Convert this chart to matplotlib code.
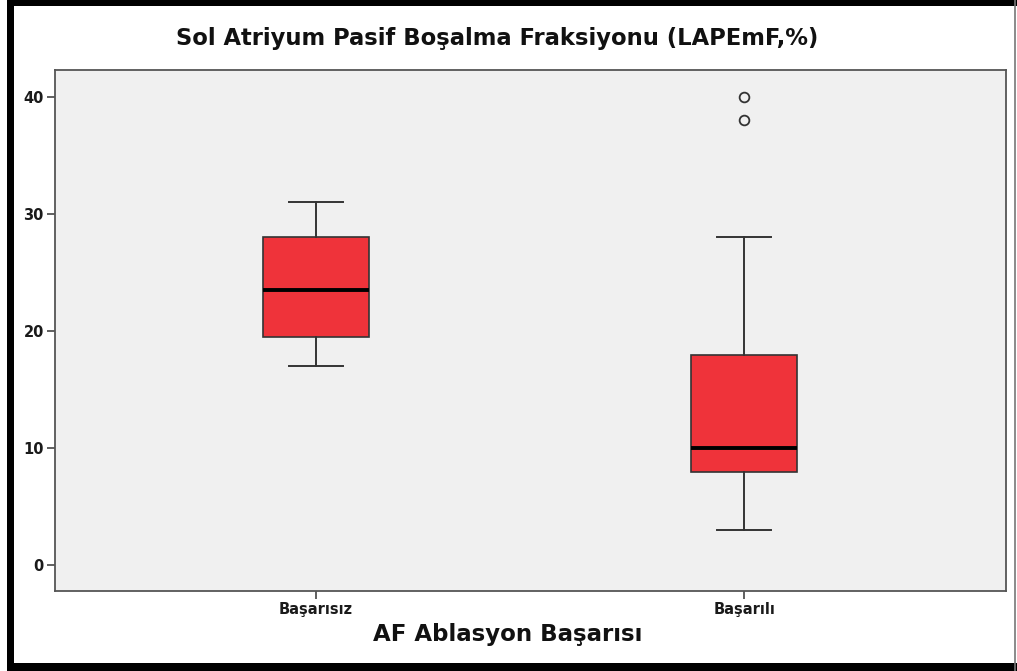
import matplotlib
matplotlib.use("Agg")
import matplotlib.pyplot as plt
from matplotlib.patches import Rectangle
from matplotlib.lines import Line2D

# five-number summaries per group, read as SPSS-style boxplot stats
groups = ["Başarısız", "Başarılı"]
whisker_low = [17, 3]
q1 = [19.5, 8]
median = [23.5, 10]
q3 = [28, 18]
whisker_high = [31, 28]
outliers = [[], [38, 40]]

yticks = [0, 10, 20, 30, 40]

box_color = "#EF333A"
panel_color = "#F0F0F0"
edge_color = "#333333"


def make_stats():
    stats = []
    for i, name in enumerate(groups):
        stats.append({
            "label": name,
            "whislo": whisker_low[i],
            "q1": q1[i],
            "med": median[i],
            "q3": q3[i],
            "whishi": whisker_high[i],
            "fliers": outliers[i],
        })
    return stats


def main():
    fig = plt.figure(figsize=(10.17, 6.71), dpi=100)
    ax = fig.add_axes([0.0541, 0.1192, 0.9351, 0.7765])
    ax.set_facecolor(panel_color)

    ax.bxp(
        make_stats(),
        positions=[0, 1],
        widths=0.248,
        capwidths=0.126,
        patch_artist=True,
        boxprops=dict(facecolor=box_color, edgecolor=edge_color, linewidth=1.2),
        medianprops=dict(color="black", linewidth=2.8),
        whiskerprops=dict(color=edge_color, linewidth=1.4),
        capprops=dict(color=edge_color, linewidth=1.4),
        flierprops=dict(marker="o", markerfacecolor="none", markeredgecolor=edge_color,
                        markersize=7, markeredgewidth=1.3, linestyle="none"),
    )

    ax.set_xlim(-0.61, 1.612)
    ax.set_ylim(-2.2, 42.3)
    ax.set_yticks(yticks)
    ax.set_yticklabels([str(v) for v in yticks])
    ax.set_xticks([0, 1])
    ax.set_xticklabels(groups)

    for lab in ax.get_xticklabels() + ax.get_yticklabels():
        lab.set_fontfamily("DejaVu Sans")
        lab.set_fontweight("bold")
        lab.set_fontsize(10.5)
        lab.set_color("#1a1a1a")
    ax.tick_params(axis="both", direction="out", length=6, width=1.2, color="#444444", pad=2)

    for side in ax.spines.values():
        side.set_color("#555555")
        side.set_linewidth(1.3)

    fig.text(0.489, 0.943, "Sol Atriyum Pasif Boşalma Fraksiyonu (LAPEmF,%)",
             ha="center", va="center", fontsize=16.3, fontweight="bold",
             family="DejaVu Sans", color="#111111")
    fig.text(0.499, 0.054, "AF Ablasyon Başarısı",
             ha="center", va="center", fontsize=16.5, fontweight="bold",
             family="DejaVu Sans", color="#111111")

    # black frame around the whole figure
    fig.patches.append(Rectangle((7 / 1017, 0), 7 / 1017, 1, transform=fig.transFigure,
                                 facecolor="black", edgecolor="none"))
    fig.patches.append(Rectangle((7 / 1017, 1 - 6 / 671), 1, 6 / 671, transform=fig.transFigure,
                                 facecolor="black", edgecolor="none"))
    fig.patches.append(Rectangle((7 / 1017, 0), 1, 8 / 671, transform=fig.transFigure,
                                 facecolor="black", edgecolor="none"))
    fig.lines.append(Line2D([1015 / 1017, 1015 / 1017], [0, 1], transform=fig.transFigure,
                            color="#777777", linewidth=1.2))

    fig.savefig("out.png", dpi=100, facecolor="white")


if __name__ == "__main__":
    main()
